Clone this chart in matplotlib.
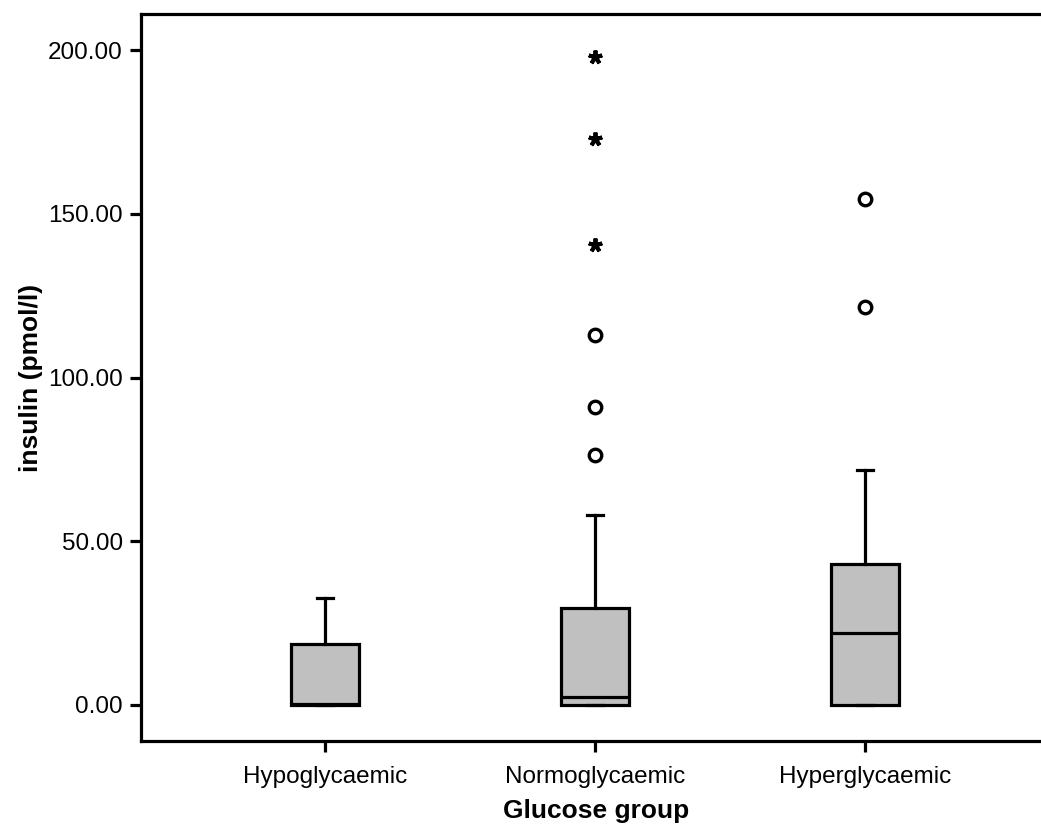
import matplotlib.pyplot as plt

plt.rcParams['font.family'] = ['Liberation Sans', 'DejaVu Sans']

groups = ["Hypoglycaemic", "Normoglycaemic", "Hyperglycaemic"]
q1 = [0.0, 0.0, 0.0]
medians = [0.3, 2.4, 22.0]
q3 = [18.6, 29.6, 43.0]
whisk_lo = [0.0, 0.0, 0.0]
whisk_hi = [32.7, 58.0, 71.8]

# outliers (circles) and extremes (asterisks), SPSS style
outliers = [[], [113.0, 91.1, 76.3], [154.5, 121.6]]
extremes = [[], [198.0, 172.7, 140.5], []]

yticks = [0, 50, 100, 150, 200]

stats = []
for i, g in enumerate(groups):
    stats.append(dict(label=g, q1=q1[i], med=medians[i], q3=q3[i],
                      whislo=whisk_lo[i], whishi=whisk_hi[i], fliers=[]))

fig = plt.figure(figsize=(10.41, 8.25), dpi=100)
ax = fig.add_axes([0.1354, 0.1018, 0.8746, 0.8812])

lw = 2.3
positions = [1, 2, 3]
ax.bxp(stats, positions=positions, widths=0.25, capwidths=0.06,
       showfliers=False, patch_artist=True,
       boxprops=dict(facecolor="#c0c0c0", edgecolor="black", linewidth=lw),
       medianprops=dict(color="black", linewidth=lw),
       whiskerprops=dict(color="black", linewidth=lw),
       capprops=dict(color="black", linewidth=lw))

for p, vals in zip(positions, outliers):
    if vals:
        ax.plot([p] * len(vals), vals, linestyle="none", marker="o", ms=9,
                mfc="white", mec="black", mew=2.4, zorder=5)
for p, vals in zip(positions, extremes):
    if vals:
        ax.plot([p] * len(vals), vals, linestyle="none", marker=(5, 2, 0),
                ms=10, color="black", mew=2.8, zorder=5)

ax.set_xlim(0.318, 3.69)
ax.set_ylim(-11.0, 211.0)
ax.set_yticks(yticks)
ax.set_yticklabels([f"{v:.2f}" for v in yticks])
ax.set_xticks(positions)
ax.set_xticklabels(groups)

ax.spines['right'].set_visible(False)
for s in ['left', 'top', 'bottom']:
    ax.spines[s].set_linewidth(lw)
ax.tick_params(axis='both', length=8, width=lw, labelsize=17.5, colors="black")
ax.tick_params(axis='x', pad=10)
ax.tick_params(axis='y', pad=5)

ax.set_xlabel("Glucose group", fontsize=19, fontweight="bold", labelpad=8)
ax.set_ylabel("insulin (pmol/l)", fontsize=19, fontweight="bold", labelpad=4)

fig.savefig("out.png", dpi=100)
